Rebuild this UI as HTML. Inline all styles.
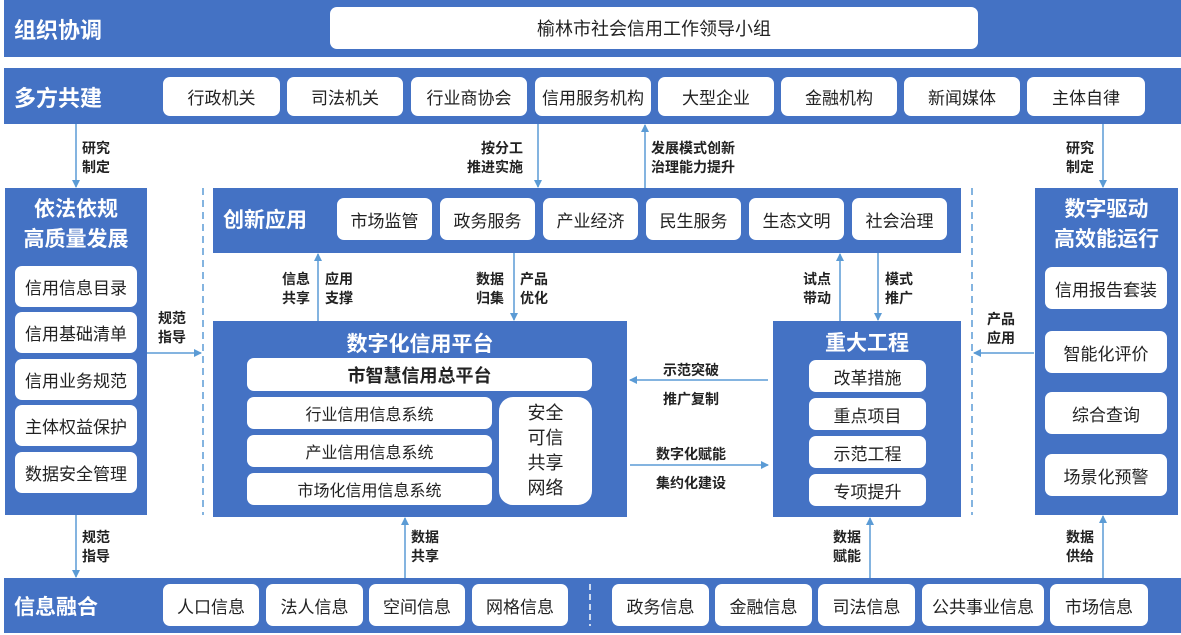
<!DOCTYPE html>
<html><head><meta charset="utf-8"><style>
*{margin:0;padding:0;box-sizing:border-box}
body{width:1181px;height:635px;background:#fff;position:relative;overflow:hidden;font-family:"Liberation Sans","Noto Sans CJK SC",sans-serif}
.b{position:absolute;background:#4472c4}
.w{position:absolute;background:#fff;border-radius:7px;display:flex;align-items:center;justify-content:center;color:#222;font-size:17px}
.t{position:absolute;color:#fff;font-weight:bold;display:flex;align-items:center;justify-content:center;text-align:center}
.l{position:absolute;font-size:14px;font-weight:bold;color:#222;line-height:19px;text-align:center}
</style></head><body>
<div class="b" style="left:4px;top:0;width:1177px;height:57px"></div>
<div class="t" style="left:14px;top:8px;height:42px;font-size:22px;justify-content:flex-start">组织协调</div>
<div class="w" style="left:330px;top:7px;width:648px;height:42px;font-size:18px">榆林市社会信用工作领导小组</div>

<div class="b" style="left:4px;top:68px;width:1177px;height:56px"></div>
<div class="t" style="left:14px;top:76px;height:42px;font-size:22px;justify-content:flex-start">多方共建</div>
<div class="w" style="left:163px;top:77px;width:117px;height:39px">行政机关</div>
<div class="w" style="left:287px;top:77px;width:116px;height:39px">司法机关</div>
<div class="w" style="left:411px;top:77px;width:116px;height:39px">行业商协会</div>
<div class="w" style="left:535px;top:77px;width:116px;height:39px">信用服务机构</div>
<div class="w" style="left:658px;top:77px;width:116px;height:39px">大型企业</div>
<div class="w" style="left:781px;top:77px;width:116px;height:39px">金融机构</div>
<div class="w" style="left:904px;top:77px;width:116px;height:39px">新闻媒体</div>
<div class="w" style="left:1027px;top:77px;width:118px;height:39px">主体自律</div>

<div class="b" style="left:5px;top:188px;width:142px;height:327px"></div>
<div class="t" style="left:5px;top:193px;width:142px;height:64px;font-size:21px;line-height:30px">依法依规<br>高质量发展</div>
<div class="w" style="left:15px;top:266px;width:122px;height:41px">信用信息目录</div>
<div class="w" style="left:15px;top:312px;width:122px;height:41px">信用基础清单</div>
<div class="w" style="left:15px;top:359px;width:122px;height:41px">信用业务规范</div>
<div class="w" style="left:15px;top:405px;width:122px;height:41px">主体权益保护</div>
<div class="w" style="left:15px;top:452px;width:122px;height:41px">数据安全管理</div>

<div class="b" style="left:1035px;top:188px;width:143px;height:327px"></div>
<div class="t" style="left:1035px;top:193px;width:143px;height:64px;font-size:21px;line-height:30px">数字驱动<br>高效能运行</div>
<div class="w" style="left:1045px;top:267px;width:122px;height:42px">信用报告套装</div>
<div class="w" style="left:1045px;top:331px;width:122px;height:42px">智能化评价</div>
<div class="w" style="left:1045px;top:392px;width:122px;height:42px">综合查询</div>
<div class="w" style="left:1045px;top:454px;width:122px;height:42px">场景化预警</div>

<div class="b" style="left:213px;top:188px;width:748px;height:65px"></div>
<div class="t" style="left:223px;top:198px;height:42px;font-size:21px">创新应用</div>
<div class="w" style="left:337px;top:198px;width:95px;height:42px">市场监管</div>
<div class="w" style="left:440px;top:198px;width:95px;height:42px">政务服务</div>
<div class="w" style="left:543px;top:198px;width:95px;height:42px">产业经济</div>
<div class="w" style="left:646px;top:198px;width:95px;height:42px">民生服务</div>
<div class="w" style="left:749px;top:198px;width:95px;height:42px">生态文明</div>
<div class="w" style="left:852px;top:198px;width:95px;height:42px">社会治理</div>

<div class="b" style="left:213px;top:321px;width:414px;height:196px"></div>
<div class="t" style="left:213px;top:328px;width:414px;height:30px;font-size:21px">数字化信用平台</div>
<div class="w" style="left:247px;top:358px;width:345px;height:33px;font-weight:bold;font-size:18px">市智慧信用总平台</div>
<div class="w" style="left:247px;top:397px;width:245px;height:32px;font-size:16px">行业信用信息系统</div>
<div class="w" style="left:247px;top:435px;width:245px;height:32px;font-size:16px">产业信用信息系统</div>
<div class="w" style="left:247px;top:473px;width:245px;height:32px;font-size:16px">市场化信用信息系统</div>
<div class="w" style="left:499px;top:397px;width:93px;height:108px;border-radius:14px;font-size:18px;line-height:25px;text-align:center">安全<br>可信<br>共享<br>网络</div>

<div class="b" style="left:773px;top:321px;width:188px;height:196px"></div>
<div class="t" style="left:773px;top:327px;width:188px;height:30px;font-size:21px">重大工程</div>
<div class="w" style="left:809px;top:360px;width:117px;height:32px">改革措施</div>
<div class="w" style="left:809px;top:398px;width:117px;height:32px">重点项目</div>
<div class="w" style="left:809px;top:436px;width:117px;height:32px">示范工程</div>
<div class="w" style="left:809px;top:474px;width:117px;height:32px">专项提升</div>

<div class="b" style="left:4px;top:578px;width:1177px;height:55px"></div>
<div class="t" style="left:14px;top:585px;height:42px;font-size:21px">信息融合</div>
<div class="w" style="left:163px;top:584px;width:96px;height:42px">人口信息</div>
<div class="w" style="left:266px;top:584px;width:97px;height:42px">法人信息</div>
<div class="w" style="left:369px;top:584px;width:96px;height:42px">空间信息</div>
<div class="w" style="left:472px;top:584px;width:96px;height:42px">网格信息</div>
<div class="w" style="left:612px;top:584px;width:97px;height:42px">政务信息</div>
<div class="w" style="left:715px;top:584px;width:97px;height:42px">金融信息</div>
<div class="w" style="left:818px;top:584px;width:97px;height:42px">司法信息</div>
<div class="w" style="left:922px;top:584px;width:122px;height:42px">公共事业信息</div>
<div class="w" style="left:1050px;top:584px;width:98px;height:42px">市场信息</div>

<svg style="position:absolute;left:0;top:0" width="1181" height="635">
<defs><marker id="a" markerWidth="8" markerHeight="8" refX="7" refY="4" orient="auto" markerUnits="userSpaceOnUse"><path d="M0,0L8,4L0,8Z" fill="#5b9bd5"/></marker></defs>
<g stroke="#5b9bd5" stroke-width="1.5" fill="none">
<line x1="203" y1="188" x2="203" y2="515" stroke-dasharray="7,5"/>
<line x1="972" y1="188" x2="972" y2="515" stroke-dasharray="7,5"/>
<line x1="590" y1="584" x2="590" y2="626" stroke="#fff" stroke-dasharray="6,4"/>
<line x1="76" y1="124" x2="76" y2="187" marker-end="url(#a)"/>
<line x1="1103" y1="124" x2="1103" y2="187" marker-end="url(#a)"/>
<line x1="538" y1="124" x2="538" y2="187" marker-end="url(#a)"/>
<line x1="645" y1="188" x2="645" y2="125" marker-end="url(#a)"/>
<line x1="318" y1="321" x2="318" y2="254" marker-end="url(#a)"/>
<line x1="514" y1="253" x2="514" y2="320" marker-end="url(#a)"/>
<line x1="840" y1="321" x2="840" y2="254" marker-end="url(#a)"/>
<line x1="878" y1="253" x2="878" y2="320" marker-end="url(#a)"/>
<line x1="147" y1="353" x2="201" y2="353" marker-end="url(#a)"/>
<line x1="1034" y1="353" x2="974" y2="353" marker-end="url(#a)"/>
<line x1="768" y1="380" x2="630" y2="380" marker-end="url(#a)"/>
<line x1="630" y1="465" x2="768" y2="465" marker-end="url(#a)"/>
<line x1="76" y1="515" x2="76" y2="577" marker-end="url(#a)"/>
<line x1="405" y1="578" x2="405" y2="518" marker-end="url(#a)"/>
<line x1="870" y1="578" x2="870" y2="518" marker-end="url(#a)"/>
<line x1="1103" y1="578" x2="1103" y2="516" marker-end="url(#a)"/>
</g></svg>

<div class="l" style="left:82px;top:139px">研究<br>制定</div>
<div class="l" style="left:1066px;top:139px">研究<br>制定</div>
<div class="l" style="left:467px;top:139px;text-align:right">按分工<br>推进实施</div>
<div class="l" style="left:651px;top:139px;text-align:left">发展模式创新<br>治理能力提升</div>
<div class="l" style="left:282px;top:270px">信息<br>共享</div>
<div class="l" style="left:325px;top:270px">应用<br>支撑</div>
<div class="l" style="left:476px;top:270px">数据<br>归集</div>
<div class="l" style="left:520px;top:270px">产品<br>优化</div>
<div class="l" style="left:803px;top:270px">试点<br>带动</div>
<div class="l" style="left:885px;top:270px">模式<br>推广</div>
<div class="l" style="left:158px;top:309px">规范<br>指导</div>
<div class="l" style="left:987px;top:310px">产品<br>应用</div>
<div class="l" style="left:663px;top:356px;line-height:29px">示范突破<br>推广复制</div>
<div class="l" style="left:656px;top:440px;line-height:29px">数字化赋能<br>集约化建设</div>
<div class="l" style="left:82px;top:528px">规范<br>指导</div>
<div class="l" style="left:411px;top:528px">数据<br>共享</div>
<div class="l" style="left:833px;top:528px">数据<br>赋能</div>
<div class="l" style="left:1066px;top:528px">数据<br>供给</div>
</body></html>
